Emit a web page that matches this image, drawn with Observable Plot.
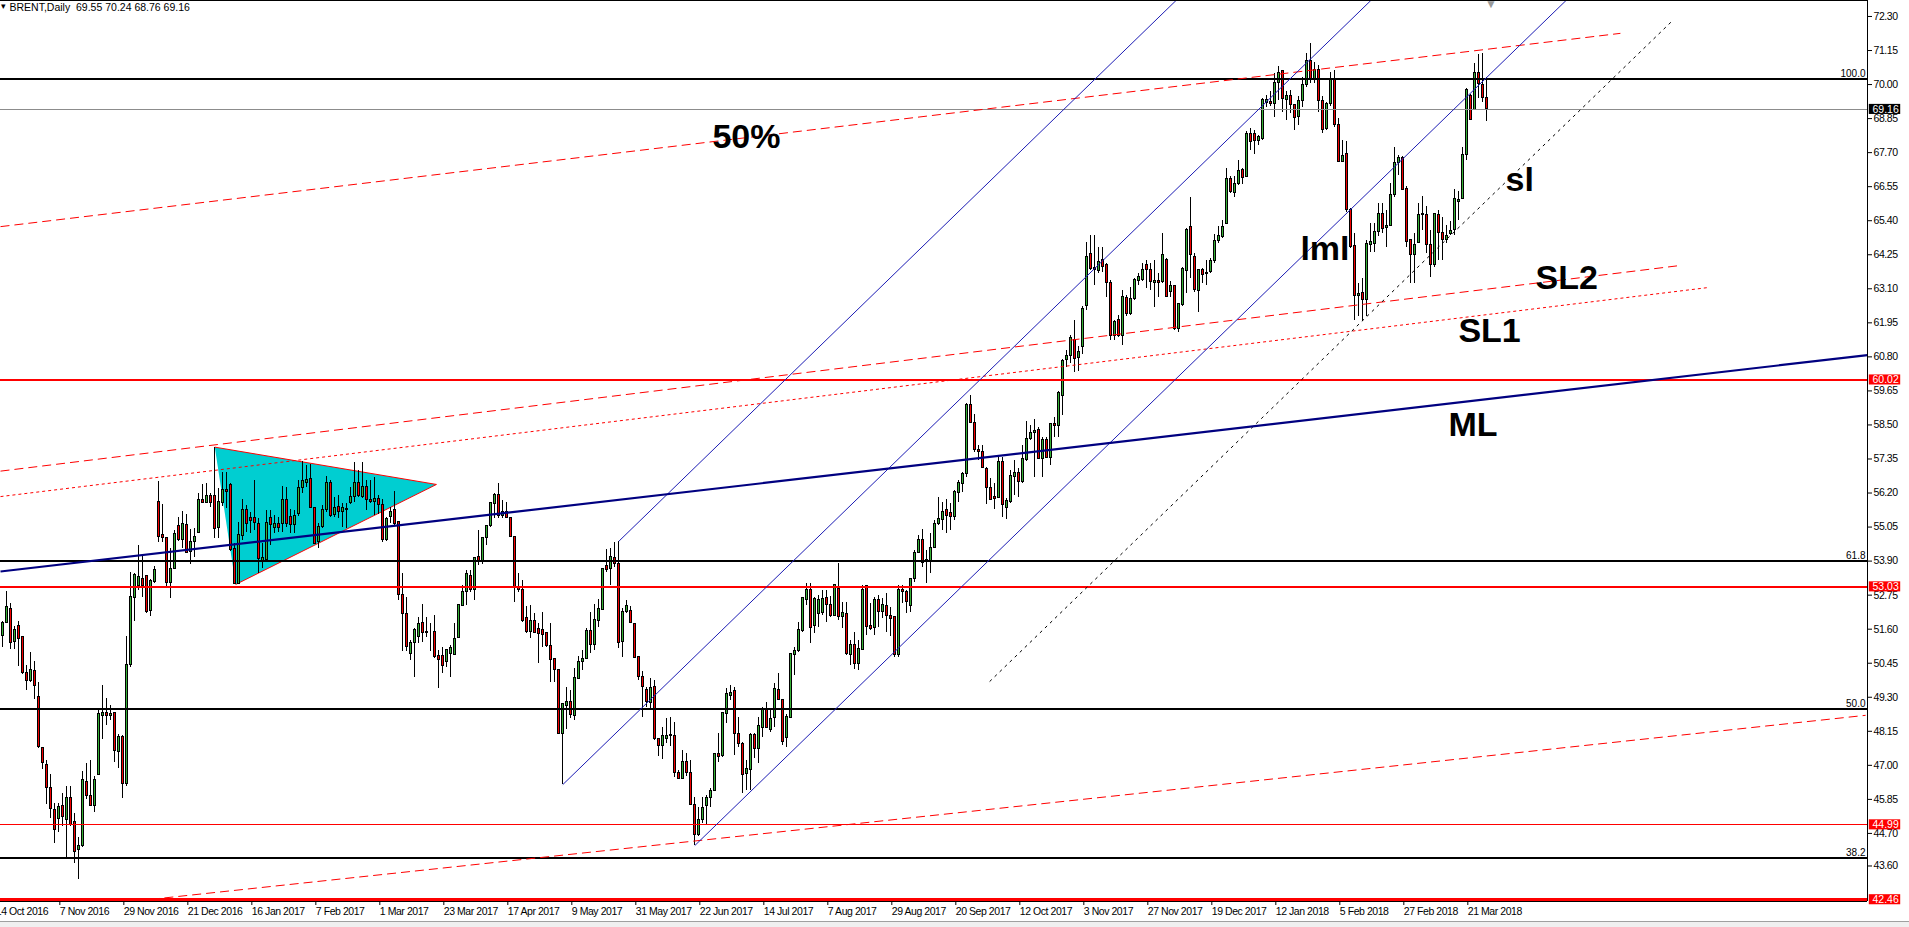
<!DOCTYPE html>
<html><head><meta charset="utf-8">
<script src="https://cdn.jsdelivr.net/npm/d3@7"></script>
<script src="https://cdn.jsdelivr.net/npm/@observablehq/plot@0.6"></script>
<style>
html,body{margin:0;padding:0;background:#fff;overflow:hidden}
svg{display:block}
[aria-label$="tick label"]{letter-spacing:-0.45px}
#bar{height:6px;background:#f0f0f0;border-top:1px solid #a0a0a0;box-sizing:border-box}
</style></head><body><div id="chart"></div><div id="bar"></div>
<script>
// ---- candle data (bar index 0..371, daily BRENT) ----
const open = [51.37,51.82,52.29,51.17,51.71,51.32,50.11,49.85,50.19,49.30,
47.59,47.02,46.23,45.50,45.19,45.62,45.16,45.90,45.08,44.15,
44.26,46.45,45.95,45.64,46.68,48.68,48.77,48.68,48.76,47.45,
47.97,46.37,50.39,52.65,53.07,53.31,53.40,52.20,53.19,55.91,
54.79,54.68,53.15,53.64,55.09,54.62,55.13,54.20,54.55,54.84,
55.98,55.86,56.10,56.10,55.01,55.86,56.31,56.47,54.31,53.13,
54.75,55.61,55.34,55.34,55.16,53.92,53.94,55.36,55.01,55.16,
55.16,55.97,55.40,55.12,55.49,56.37,56.54,56.68,55.70,54.54,
55.04,55.61,56.54,55.47,55.72,55.55,55.63,55.86,56.08,56.54,
56.06,56.40,55.98,55.89,56.00,55.81,54.60,55.39,55.61,55.22,
52.74,52.12,50.77,51.13,51.33,51.82,51.52,51.50,51.50,50.68,
50.71,50.49,50.75,50.73,51.30,52.40,52.87,53.41,52.91,54.03,
53.90,54.69,55.07,55.84,56.14,55.44,55.55,55.36,54.73,53.02,
52.93,51.98,51.50,51.87,51.59,51.56,51.48,51.04,50.58,50.21,
48.07,49.00,49.15,48.66,49.92,50.49,50.58,51.55,51.08,51.89,
52.26,53.72,53.64,54.01,53.81,51.16,52.19,52.20,51.79,50.66,
49.97,49.56,49.11,49.64,47.89,47.65,47.89,48.01,48.00,46.75,
46.55,47.11,46.75,45.67,44.63,45.14,45.61,45.90,46.15,47.39,
47.31,48.74,49.34,49.50,48.07,47.73,46.71,46.85,48.04,47.56,
48.27,48.90,48.20,48.59,49.55,49.21,47.93,48.61,50.73,50.86,
51.53,52.59,52.93,51.72,52.12,52.14,52.66,52.43,52.06,52.96,
52.00,52.10,50.74,51.08,50.43,50.90,53.07,51.72,51.64,52.59,
52.17,52.40,52.06,52.00,50.74,52.93,52.85,52.40,53.30,54.17,
54.60,53.94,53.90,54.35,55.16,55.29,55.63,55.52,55.38,56.19,
56.51,56.85,59.19,58.56,57.66,57.58,57.02,56.37,56.06,56.04,
57.24,55.70,55.89,56.73,56.87,56.57,57.30,58.03,58.22,58.33,
57.35,58.00,57.39,58.54,58.46,59.49,60.68,60.84,61.38,60.77,
61.15,62.53,64.28,63.81,63.69,64.08,63.89,63.29,61.52,62.03,
61.52,62.80,62.26,62.77,63.36,63.41,63.89,63.72,63.30,63.36,
63.33,64.08,62.99,63.18,61.75,62.54,63.70,65.19,64.17,63.02,
63.74,63.65,63.67,64.04,64.70,64.85,65.30,66.82,66.33,66.63,
67.10,66.88,68.34,68.32,68.09,68.17,69.38,69.41,69.35,70.05,
70.45,69.49,69.60,69.30,68.90,69.44,69.97,70.79,70.14,70.48,
69.44,68.51,69.33,70.20,68.62,67.38,67.64,65.75,64.53,62.84,
62.96,62.73,64.57,64.62,65.02,65.64,65.15,65.21,66.28,67.35,
67.53,66.48,64.74,64.23,64.65,65.60,65.61,64.59,63.89,65.58,
64.98,64.76,64.94,65.07,66.03,66.14,67.61,69.63,69.15,70.40,
69.99,69.55];
const high = [51.87,52.87,52.47,51.69,51.87,51.35,50.37,50.80,50.51,49.79,
47.59,47.15,46.68,45.72,45.70,46.04,46.29,46.29,45.38,44.55,
46.80,47.05,47.16,46.63,48.85,49.70,49.27,49.01,48.78,48.05,
48.00,51.34,53.51,53.47,54.43,54.09,53.40,53.27,53.72,56.59,
55.81,54.68,54.31,54.93,55.38,55.58,55.49,54.98,55.01,56.17,
56.49,56.51,56.17,57.75,56.34,56.90,56.89,56.51,54.48,55.21,
55.98,55.78,55.55,56.62,55.33,54.48,55.61,55.61,55.44,55.36,
56.42,56.37,55.63,55.61,56.64,57.27,57.13,57.16,55.72,55.16,
55.78,56.77,56.62,56.06,56.11,55.83,55.83,56.37,57.24,56.96,
57.24,56.64,56.62,56.73,56.11,55.97,55.39,55.72,56.26,55.22,
53.49,52.68,51.22,51.61,52.01,52.44,52.01,51.78,52.06,50.88,
50.97,50.90,51.05,51.80,52.44,53.08,53.58,53.58,54.01,54.94,
54.71,55.10,55.89,56.17,56.51,55.95,55.89,55.39,54.73,53.47,
53.25,52.35,52.40,52.12,51.78,52.18,51.50,51.78,50.59,50.21,
49.08,49.64,49.53,50.26,50.68,50.88,51.61,52.18,52.44,52.59,
53.64,54.28,54.32,54.54,54.57,52.29,52.57,52.35,51.79,50.68,
50.18,49.64,49.92,49.87,47.90,48.29,48.57,48.61,48.46,46.83,
47.50,47.39,47.17,45.93,45.59,45.93,45.98,46.21,47.41,48.07,
48.80,49.59,49.70,49.64,48.60,47.78,47.16,48.09,48.09,48.63,
48.97,49.13,48.88,49.75,50.09,49.21,48.72,50.77,50.99,51.84,
52.68,53.15,53.15,52.68,52.73,52.91,52.91,52.69,53.12,53.81,
52.51,52.51,51.22,51.50,51.22,53.07,53.07,52.46,52.68,52.73,
52.62,52.79,52.34,52.03,53.07,53.07,52.91,53.30,54.26,54.76,
54.96,54.26,54.82,55.27,56.06,55.89,55.97,55.83,56.28,56.62,
56.90,59.21,59.49,58.87,57.80,57.80,57.07,56.68,56.51,57.41,
57.41,56.00,56.96,57.30,57.02,57.80,58.63,58.48,58.67,58.42,
58.06,58.08,58.56,58.76,59.64,60.70,61.01,61.52,62.03,61.15,
62.50,64.67,64.90,64.90,64.48,64.50,63.94,63.38,62.03,62.20,
63.05,62.88,63.16,63.44,63.61,63.95,64.06,63.95,64.06,63.61,
64.98,64.11,63.36,63.22,62.60,63.81,65.13,66.20,64.29,63.74,
63.78,64.06,64.12,64.94,65.19,65.41,67.16,66.88,66.88,67.44,
67.16,68.40,68.51,68.45,68.28,69.52,69.63,69.75,70.37,70.61,
70.48,69.78,69.80,69.33,69.58,70.25,71.04,71.38,70.76,70.65,
69.58,69.38,70.42,70.48,68.85,68.11,68.06,65.81,64.96,63.27,
63.44,64.74,65.32,65.30,65.97,65.97,65.75,66.65,67.89,67.61,
67.57,66.54,64.76,64.96,65.97,66.22,65.88,65.07,65.66,65.75,
65.52,65.24,65.36,66.45,66.40,67.89,69.86,69.67,70.70,71.02,
71.04,70.24];
const low = [50.99,51.78,50.91,50.91,50.34,50.08,49.54,49.81,49.24,47.56,
46.85,45.67,45.22,44.35,44.72,44.95,43.81,44.95,43.67,43.13,
44.23,45.83,45.62,45.39,46.65,47.89,48.33,48.51,47.08,46.90,
45.89,46.28,50.31,51.87,52.90,52.68,52.12,52.04,53.13,54.54,
54.54,53.04,52.62,53.60,54.56,54.31,54.17,53.77,54.03,54.82,
55.83,55.83,55.72,54.65,54.68,55.74,55.69,54.23,53.11,53.11,
54.59,54.88,54.84,54.93,53.47,53.64,53.90,54.43,54.82,54.88,
54.88,55.04,54.84,54.82,55.40,56.19,56.40,55.67,54.46,54.31,
55.00,55.55,55.38,55.36,55.33,55.04,54.99,55.82,55.89,56.06,
56.00,55.61,55.86,55.44,55.47,54.54,54.57,55.16,55.10,52.57,
50.83,50.83,50.54,49.98,51.13,51.16,51.33,50.83,50.60,49.59,
50.09,50.32,49.96,50.71,51.28,52.40,52.40,52.85,52.57,53.75,
53.79,54.43,55.05,55.33,55.33,55.33,55.33,54.69,52.51,52.85,
51.84,51.47,51.28,51.44,50.43,50.99,50.99,49.81,49.81,48.05,
46.35,48.20,48.57,48.52,49.92,50.21,50.57,50.77,50.88,51.67,
52.23,53.53,53.08,53.70,50.94,50.63,52.14,51.78,50.60,49.85,
48.63,48.97,48.85,47.84,47.30,47.19,47.73,47.62,46.60,46.51,
46.51,46.63,45.65,44.29,44.58,45.03,44.97,45.59,46.10,47.11,
47.28,48.40,49.19,47.33,47.61,46.05,46.15,46.15,47.22,47.05,
47.95,48.23,48.12,48.29,49.19,47.67,47.61,48.57,50.04,50.82,
51.50,52.40,51.13,51.44,51.67,52.06,51.84,52.00,52.04,51.89,
51.61,50.71,50.37,50.23,50.20,50.88,51.39,51.55,51.39,51.67,
51.95,51.50,51.35,50.65,50.65,52.46,52.12,52.17,53.19,54.15,
53.69,53.13,53.49,54.31,55.10,54.93,54.84,54.93,55.27,55.89,
56.23,56.73,58.54,57.58,57.30,57.02,55.81,55.95,55.66,56.00,
55.38,55.29,55.83,56.12,56.06,56.53,57.28,57.97,56.73,57.32,
56.71,57.35,57.13,58.09,58.09,58.82,60.45,60.56,60.28,60.32,
60.88,62.36,63.72,63.21,63.60,63.66,62.82,61.35,61.35,61.46,
61.19,62.17,62.20,62.71,63.22,63.33,63.10,63.05,62.48,62.82,
63.29,62.80,62.82,61.70,61.64,62.51,62.94,63.44,62.99,62.31,
63.27,63.22,63.63,63.97,64.62,64.79,65.28,66.31,66.20,66.59,
66.63,66.85,67.78,67.64,67.95,68.11,69.24,69.26,68.88,69.47,
69.07,68.77,69.02,68.45,68.62,69.24,69.89,70.03,70.03,69.07,
68.36,68.45,69.26,68.56,67.35,67.35,65.69,64.45,62.03,62.15,
61.98,62.15,64.34,64.34,64.85,64.96,64.49,65.19,66.20,66.93,
66.42,64.51,63.27,63.27,64.62,65.07,64.29,63.47,63.83,64.06,
64.06,64.62,64.90,64.90,65.41,66.11,67.44,68.79,69.13,69.52,
69.40,68.76];
const close = [51.82,52.36,51.14,51.58,51.27,50.11,49.85,50.22,49.67,47.61,
47.08,46.23,45.53,44.82,45.58,45.25,45.90,45.00,44.07,44.26,
46.49,45.95,45.64,46.49,48.74,48.78,48.66,48.75,47.50,47.97,
46.37,50.39,52.70,53.43,53.36,53.07,52.17,53.22,53.60,54.71,
54.67,53.15,53.64,54.82,54.62,55.16,54.18,54.56,54.73,55.97,
55.86,56.10,55.86,54.98,55.89,56.31,56.23,54.26,53.13,54.79,
55.64,55.16,55.25,55.18,53.97,53.99,55.19,55.12,55.16,55.01,
55.97,55.16,55.12,55.44,56.37,56.59,56.65,55.69,54.48,55.04,
55.61,56.54,55.44,55.70,55.55,55.70,55.67,56.08,56.54,56.09,
56.40,55.95,55.89,56.00,55.78,54.60,55.33,55.55,55.16,52.74,
52.12,50.99,51.13,51.56,51.78,51.48,51.48,51.50,50.66,50.57,
50.37,50.88,50.96,51.28,52.42,52.87,53.47,52.91,54.01,53.90,
54.69,55.07,55.87,56.12,55.44,55.55,55.36,54.71,53.00,52.93,
51.89,51.50,51.86,51.48,51.44,51.42,51.04,50.57,50.21,48.07,
49.08,49.15,48.69,49.95,50.50,50.60,51.55,51.05,51.92,52.29,
53.62,53.61,54.05,53.81,51.13,52.17,52.37,51.82,50.63,49.98,
49.64,49.14,49.62,47.90,47.64,48.00,48.00,47.99,46.74,46.55,
47.12,46.74,45.67,44.63,45.16,45.57,45.90,46.15,47.39,47.28,
48.78,49.42,49.44,48.07,47.73,46.66,46.88,48.04,47.56,48.32,
48.91,48.27,48.57,49.58,49.21,47.78,48.65,50.77,50.86,51.56,
52.66,52.93,51.63,52.62,52.57,52.62,52.43,52.06,53.10,52.01,
52.15,50.77,51.08,50.43,50.93,52.93,51.69,51.61,52.59,52.17,
52.43,52.03,51.95,50.74,52.93,52.85,52.51,53.30,54.18,54.62,
53.83,53.90,54.35,55.16,55.33,55.55,55.44,55.38,56.23,56.53,
56.85,59.19,58.56,57.64,57.58,57.05,56.37,55.97,56.00,57.24,
55.78,55.92,56.76,56.87,56.57,57.35,58.03,58.23,58.31,57.35,
58.00,57.39,58.54,58.47,59.58,60.65,60.84,61.44,60.73,60.98,
62.42,64.18,63.77,63.72,64.02,63.83,63.29,61.52,61.99,61.52,
62.82,62.26,62.77,63.39,63.50,63.74,63.72,63.33,63.36,63.29,
64.23,62.82,63.18,61.75,62.57,63.78,65.10,64.23,63.05,63.72,
63.55,63.59,64.04,64.71,64.90,65.19,66.82,66.37,66.63,67.07,
66.85,68.34,68.06,68.08,68.23,69.47,69.47,69.35,70.05,70.39,
69.52,69.60,69.30,68.88,69.44,69.97,70.79,70.14,70.50,69.44,
68.45,69.33,70.14,68.62,67.38,67.57,65.75,64.51,62.86,62.93,
62.73,64.62,64.68,65.02,65.64,65.13,65.21,66.28,67.36,67.53,
66.45,64.68,64.23,64.59,65.60,65.64,64.57,63.89,65.64,64.98,
64.76,64.90,65.04,66.14,66.11,67.61,69.80,68.81,70.39,70.01,
69.54,69.16];

// ---- axis tick labels ----
const dateLabels = ["14 Oct 2016","7 Nov 2016","29 Nov 2016","21 Dec 2016","16 Jan 2017","7 Feb 2017","1 Mar 2017","23 Mar 2017","17 Apr 2017","9 May 2017","31 May 2017","22 Jun 2017","14 Jul 2017","7 Aug 2017","29 Aug 2017","20 Sep 2017","12 Oct 2017","3 Nov 2017","27 Nov 2017","19 Dec 2017","12 Jan 2018","5 Feb 2018","27 Feb 2018","21 Mar 2018"];
const dateLabelBars = [-2,14,30,46,62,78,94,110,126,142,158,174,190,206,222,238,254,270,286,302,318,334,350,366];
const priceTicks = [72.30,71.15,70.00,68.85,67.70,66.55,65.40,64.25,63.10,61.95,60.80,59.65,58.50,57.35,56.20,55.05,53.90,52.75,51.60,50.45,49.30,48.15,47.00,45.85,44.70,43.60];

// ---- horizontal levels ----
const fibPrices = [70.20, 53.90, 48.89, 43.87];
const fibLabels = ["100.0", "61.8", "50.0", "38.2"];
const redLevels = [60.02, 53.03, 44.99, 42.46];
const redWidths = [2, 2, 1, 2.5];
const bidPrice = 69.16;
const boxPrices = [69.16, 60.02, 53.03, 44.99, 42.46];
const boxColors = ["#000000", "#ff0000", "#ff0000", "#ff0000", "#ff0000"];

// ---- drawn objects (bar index, price) ----
const line50 = [[-0.58, 65.20], [404.4, 71.73]];
const lineSL2 = [[-0.58, 56.94], [418.9, 63.88]];
const lineSL1 = [[-0.58, 56.08], [426.2, 63.14]];
const lineLow = [[36.9, 42.47], [465.7, 48.69]];
const lineML = [[-0.58, 53.55], [466.17, 60.86]];
const lineSl = [[246.7, 49.83], [417.2, 72.13]];
const channelStarts = [[154, 54.57], [140, 46.35], [173, 44.29]];
const channelEnds = [[293.3, 72.84], [342.0, 72.84], [390.8, 72.84]];
const triangle = [[53, 57.75], [58.2, 53.11], [108.4, 56.49]];
const notes = ["50%", "sl", "lml", "SL2", "SL1", "ML"];
const noteBars = [177.4, 375.7, 324.4, 383.2, 363.9, 361.4];
const notePrices = [67.84, 66.42, 64.06, 63.11, 61.29, 58.14];
const title = "BRENT,Daily  69.55 70.24 68.76 69.16";

// ---- build ----
const xDomain = [-0.5825, 466.17];
const yDomain = [42.40, 72.84];
const candles = open.map((o, i) => {
  const c = close[i];
  return {i, o, c, h: Math.max(high[i], o, c), l: Math.min(low[i], o, c), up: c >= o};
});
const GREEN = "#35b035", RED = "#f20000";
const seg = (pts) => ({x1: pts[0][0], y1: pts[0][1], x2: pts[1][0], y2: pts[1][1]});
const channel = channelStarts.map((s, k) => seg([s, channelEnds[k]]));
const tri = [...triangle, triangle[0]].map(([x, y]) => ({x, y}));
const triEdges = [seg([triangle[0], triangle[2]]), seg([triangle[1], triangle[2]])];
const noteData = notes.map((t, k) => ({t, x: noteBars[k], y: notePrices[k]}));
const fibData = fibPrices.map((p, k) => ({p, t: fibLabels[k]}));
const redData = redLevels.map((p, k) => ({p, w: redWidths[k]}));
const boxData = boxPrices.map((p, k) => ({p, fill: boxColors[k], t: p.toFixed(2)}));
const labelMap = new Map(dateLabelBars.map((b, k) => [b, dateLabels[k]]));
const X = xDomain[1];
const sans = "'Liberation Sans',Arial,sans-serif";

const chart = Plot.plot({
  width: 1909, height: 921,
  marginTop: 0, marginLeft: 0, marginRight: 42, marginBottom: 20,
  x: {domain: xDomain},
  y: {domain: yDomain},
  style: {fontFamily: sans, fontSize: "10.5px", background: "#fff", overflow: "visible"},
  marks: [
    // triangle (behind candles)
    Plot.line(tri, {x: "x", y: "y", fill: "#00CED1", stroke: "none"}),
    Plot.link(triEdges, {x1: "x1", y1: "y1", x2: "x2", y2: "y2", stroke: "#ff0000", strokeWidth: 1}),
    // candles
    Plot.ruleX(candles, {x: "i", y1: "l", y2: "h", stroke: "#000", strokeWidth: 1, shapeRendering: "crispEdges"}),
    Plot.rect(candles, {x1: d => d.i - 0.25, x2: d => d.i + 0.25, y1: "o", y2: "c",
      fill: d => d.up ? GREEN : RED, stroke: "#000", strokeWidth: 1, shapeRendering: "crispEdges"}),
    // horizontal levels
    Plot.ruleY([bidPrice], {stroke: "#8c8c8c", strokeWidth: 1, shapeRendering: "crispEdges"}),
    Plot.ruleY(fibData, {y: "p", stroke: "#000", strokeWidth: 2, shapeRendering: "crispEdges"}),
    Plot.ruleY(redData, {y: "p", stroke: "#ff0000", strokeWidth: "w", shapeRendering: "crispEdges"}),
    Plot.text(fibData, {x: X, y: "p", text: "t", textAnchor: "end", lineAnchor: "bottom", dx: -2, dy: -2, fontSize: 10, fill: "#000"}),
    // trend lines
    Plot.link([seg(line50)], {x1: "x1", y1: "y1", x2: "x2", y2: "y2", stroke: "#ff0000", strokeWidth: 1, strokeDasharray: "9,5"}),
    Plot.link([seg(lineSL2)], {x1: "x1", y1: "y1", x2: "x2", y2: "y2", stroke: "#ff0000", strokeWidth: 1, strokeDasharray: "9,5"}),
    Plot.link([seg(lineSL1)], {x1: "x1", y1: "y1", x2: "x2", y2: "y2", stroke: "#ff0000", strokeWidth: 1, strokeDasharray: "3,3"}),
    Plot.link([seg(lineLow)], {x1: "x1", y1: "y1", x2: "x2", y2: "y2", stroke: "#ff0000", strokeWidth: 1, strokeDasharray: "9,5"}),
    Plot.link([seg(lineSl)], {x1: "x1", y1: "y1", x2: "x2", y2: "y2", stroke: "#000", strokeWidth: 1, strokeDasharray: "3,4"}),
    Plot.link(channel, {x1: "x1", y1: "y1", x2: "x2", y2: "y2", stroke: "#1c1cb4", strokeWidth: 1, clip: true}),
    Plot.link([seg(lineML)], {x1: "x1", y1: "y1", x2: "x2", y2: "y2", stroke: "#000080", strokeWidth: 2.2}),
    // annotations
    Plot.text(noteData, {x: "x", y: "y", text: "t", textAnchor: "start", lineAnchor: "bottom",
      fontSize: 34, fontWeight: "bold", fontFamily: sans, fill: "#000"}),
    // frame (top, right, bottom)
    Plot.ruleY([yDomain[1]], {stroke: "#000", strokeWidth: 1}),
    Plot.ruleY([yDomain[0]], {stroke: "#000", strokeWidth: 1}),
    Plot.ruleX([X], {stroke: "#000", strokeWidth: 1}),
    // axes
    Plot.axisY({anchor: "right", ticks: priceTicks, tickFormat: d => d.toFixed(2), tickSize: 4, tickPadding: 2, fill: "#000"}),
    Plot.axisX({anchor: "bottom", ticks: dateLabelBars, tickFormat: d => labelMap.get(d), tickSize: 4, tickPadding: 2, textAnchor: "start", dx: 1, fill: "#000"}),
    // price boxes
    Plot.rect(boxData, {x1: X + 0.45, x2: X + 8.3, y1: d => d.p - 0.17, y2: d => d.p + 0.17, fill: "fill"}),
    Plot.text(boxData, {x: X, y: "p", text: "t", textAnchor: "start", dx: 5, fill: "#fff", fontSize: 10.5}),
    // header and shift marker
    Plot.text([title], {frameAnchor: "top-left", dx: 9, dy: 3, lineAnchor: "top", fontSize: 10.5, fontFamily: sans, fill: "#000"}),
    Plot.text(["\u25BE"], {frameAnchor: "top-left", dx: 0, dy: 2, lineAnchor: "top", fontSize: 9, fill: "#000"}),
    Plot.text([candles.length], {x: d => d, frameAnchor: "top", lineAnchor: "top", text: () => "\u25BC", fontSize: 12, fill: "#9a9a9a", dy: -1})
  ]
});
document.getElementById("chart").appendChild(chart);
</script>
</body></html>
